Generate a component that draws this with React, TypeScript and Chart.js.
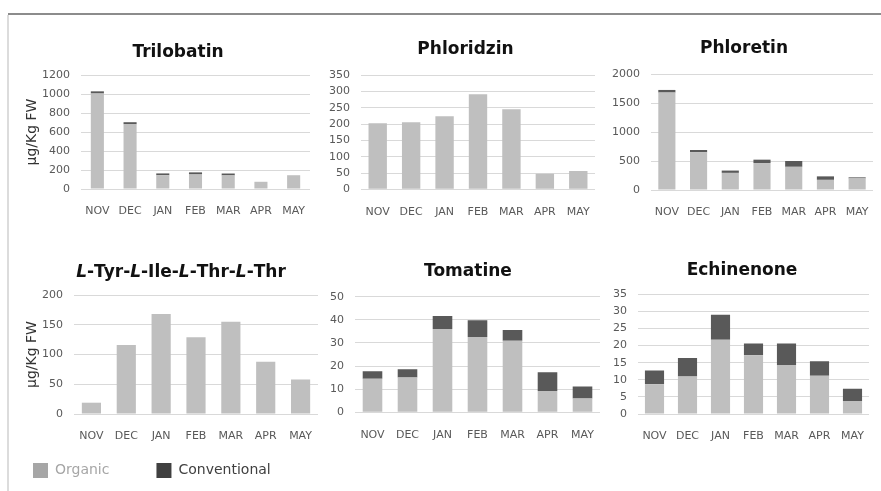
import { useEffect, useRef } from 'react';
import { Chart, registerables } from 'chart.js';

Chart.register(...registerables);

const FONT = "'DejaVu Sans', Verdana, sans-serif";
Chart.defaults.font.family = FONT;

// Sampling months (x-axis categories)
const months = ['NOV', 'DEC', 'JAN', 'FEB', 'MAR', 'APR', 'MAY'];
const seriesNames = ['Organic', 'Conventional'];

// µg/Kg FW, organic contribution and extra amount for conventional (stacked)
const trilobatinOrganic = [1005, 683, 145, 153, 143, 76, 145];
const trilobatinConventional = [23, 20, 19, 22, 20, 0, 0];
const phloridzinOrganic = [203, 206, 224, 292, 246, 48, 56];
const phloridzinConventional = [0, 0, 0, 0, 0, 0, 0];
const phloretinOrganic = [1680, 650, 295, 465, 400, 175, 200];
const phloretinConventional = [45, 40, 40, 58, 100, 60, 18];
const peptideOrganic = [19, 116, 168, 129, 155, 88, 58];
const peptideConventional = [0, 0, 0, 0, 0, 0, 0];
const tomatineOrganic = [14.5, 15, 36, 32.6, 31, 9.2, 6];
const tomatineConventional = [3.3, 3.6, 5.7, 7.2, 4.6, 8.1, 5.2];
const echinenoneOrganic = [8.7, 11, 21.7, 17.2, 14.3, 11.2, 3.8];
const echinenoneConventional = [4, 5.4, 7.3, 3.4, 6.3, 4.2, 3.6];

// y-axis ranges per panel
const yMax = [1200, 350, 2000, 200, 50, 35];
const yStep = [200, 50, 500, 50, 10, 5];

const ORGANIC_COLOR = '#bfbfbf';
const CONVENTIONAL_COLOR = '#595959';
const TICK_COLOR = '#595959';
const GRID_COLOR = '#d9d9d9';
const TITLE_COLOR = '#111111';
const Y_TITLE = 'µg/Kg FW';

type PanelSpec = {
  title: string;
  organic: number[];
  conventional: number[];
  max: number;
  step: number;
  yTitle: string | null;
  // layout of the panel on the page
  titleCX: number;
  titleCY: number;
  plotL: number;
  plotR: number;
  plotT: number;
  plotB: number;
  barPct: number;
  yTitleX: number;
};

const panels: PanelSpec[] = [
  { title: 'Trilobatin', organic: trilobatinOrganic, conventional: trilobatinConventional, max: yMax[0], step: yStep[0], yTitle: Y_TITLE,
    titleCX: 178, titleCY: 52, plotL: 81, plotR: 310, plotT: 75, plotB: 189, barPct: 0.4, yTitleX: 32 },
  { title: 'Phloridzin', organic: phloridzinOrganic, conventional: phloridzinConventional, max: yMax[1], step: yStep[1], yTitle: null,
    titleCX: 465.5, titleCY: 49, plotL: 361, plotR: 595, plotT: 75.3, plotB: 189.3, barPct: 0.55, yTitleX: 0 },
  { title: 'Phloretin', organic: phloretinOrganic, conventional: phloretinConventional, max: yMax[2], step: yStep[2], yTitle: null,
    titleCX: 744, titleCY: 48, plotL: 651, plotR: 873, plotT: 74, plotB: 190, barPct: 0.54, yTitleX: 0 },
  { title: 'L-Tyr-L-Ile-L-Thr-L-Thr', organic: peptideOrganic, conventional: peptideConventional, max: yMax[3], step: yStep[3], yTitle: Y_TITLE,
    titleCX: 181, titleCY: 272, plotL: 74, plotR: 318, plotT: 295, plotB: 414, barPct: 0.55, yTitleX: 32 },
  { title: 'Tomatine', organic: tomatineOrganic, conventional: tomatineConventional, max: yMax[4], step: yStep[4], yTitle: null,
    titleCX: 468, titleCY: 271, plotL: 355, plotR: 600, plotT: 296.7, plotB: 412.3, barPct: 0.56, yTitleX: 0 },
  { title: 'Echinenone', organic: echinenoneOrganic, conventional: echinenoneConventional, max: yMax[5], step: yStep[5], yTitle: null,
    titleCX: 742, titleCY: 270, plotL: 638, plotR: 869, plotT: 294.3, plotB: 414, barPct: 0.58, yTitleX: 0 },
];

const TITLE_SIZE = 17;
const TITLE_LINE = TITLE_SIZE * 1.2;
const X_AXIS_HEIGHT = 30;
const Y_TITLE_SIZE = 14;

// Draws the panel heading inside the reserved title block; in peptide names
// the L stereo descriptors are set in italics.
const panelTitlePlugin = {
  id: 'panelTitle',
  afterDraw(chart: any) {
    const opts = chart.options.plugins.panelTitle;
    if (!opts || !opts.text) return;
    const block = chart.titleBlock;
    if (!block) return;
    const ctx = chart.ctx as CanvasRenderingContext2D;
    const parts: { t: string; italic: boolean }[] = [];
    String(opts.text).split('-').forEach((tok: string, i: number) => {
      if (i > 0) parts.push({ t: '-', italic: false });
      parts.push({ t: tok, italic: tok === 'L' });
    });
    const fontOf = (italic: boolean) => `${italic ? 'italic ' : ''}bold ${TITLE_SIZE}px ${FONT}`;
    ctx.save();
    let total = 0;
    parts.forEach((p) => {
      ctx.font = fontOf(p.italic);
      total += ctx.measureText(p.t).width;
    });
    let x = opts.centerX - total / 2;
    const y = block.top + TITLE_LINE / 2;
    ctx.textBaseline = 'middle';
    ctx.textAlign = 'left';
    ctx.fillStyle = TITLE_COLOR;
    parts.forEach((p) => {
      ctx.font = fontOf(p.italic);
      ctx.fillText(p.t, x, y);
      x += ctx.measureText(p.t).width;
    });
    ctx.restore();
  },
};

function BarPanel({ spec }: { spec: PanelSpec }) {
  const ref = useRef<HTMLCanvasElement>(null);

  const scaleLeft = spec.yTitle ? 20 : Math.floor(spec.plotL - 45);
  const cx0 = scaleLeft - 4;
  const padLeft = scaleLeft - cx0;
  const W = Math.ceil(spec.plotR + 4 - cx0);
  const padRight = cx0 + W - spec.plotR;
  const cy0 = Math.round(spec.titleCY - TITLE_LINE / 2);
  const titlePadBottom = spec.plotT - cy0 - TITLE_LINE;
  const H = Math.ceil(spec.plotB + X_AXIS_HEIGHT - cy0);
  const padBottom = cy0 + H - X_AXIS_HEIGHT - spec.plotB;
  const yWidth = spec.plotL - scaleLeft;
  const yTitlePad = spec.yTitleX - scaleLeft - (Y_TITLE_SIZE * 1.2) / 2;

  useEffect(() => {
    if (!ref.current) return;
    const chart = new Chart(ref.current, {
      type: 'bar',
      data: {
        labels: months,
        datasets: [
          { label: seriesNames[0], data: spec.organic, backgroundColor: ORGANIC_COLOR, borderWidth: 0 },
          { label: seriesNames[1], data: spec.conventional, backgroundColor: CONVENTIONAL_COLOR, borderWidth: 0 },
        ],
      },
      options: {
        responsive: false,
        animation: false,
        events: [],
        categoryPercentage: 1,
        barPercentage: spec.barPct,
        layout: { padding: { left: padLeft, right: padRight, top: 0, bottom: padBottom } },
        plugins: {
          legend: { display: false },
          tooltip: { enabled: false },
          // reserves the heading block; the text itself is painted by panelTitle
          title: {
            display: true,
            text: spec.title,
            color: 'rgba(0,0,0,0)',
            font: { family: FONT, size: TITLE_SIZE, weight: 'bold', lineHeight: 1.2 },
            padding: { top: 0, bottom: titlePadBottom },
          },
          panelTitle: { text: spec.title, centerX: spec.titleCX - cx0 },
        } as any,
        scales: {
          x: {
            stacked: true,
            grid: { display: false },
            border: { display: false },
            ticks: { color: TICK_COLOR, font: { size: 11 }, padding: 8, maxRotation: 0, autoSkip: false },
            afterFit: (s: any) => { s.height = X_AXIS_HEIGHT; },
          },
          y: {
            stacked: true,
            min: 0,
            max: spec.max,
            border: { display: false },
            grid: { color: GRID_COLOR, drawTicks: false, lineWidth: 1 },
            ticks: {
              stepSize: spec.step,
              color: TICK_COLOR,
              font: { size: 11 },
              padding: 11,
              callback: (v: any) => String(v),
            },
            title: {
              display: !!spec.yTitle,
              text: spec.yTitle || '',
              color: '#333333',
              font: { family: FONT, size: Y_TITLE_SIZE, lineHeight: 1.2 },
              padding: { top: yTitlePad, bottom: 0 },
            },
            afterFit: (s: any) => { s.width = yWidth; },
          },
        },
      },
      plugins: [panelTitlePlugin as any],
    });
    return () => chart.destroy();
  }, []);

  return (
    <canvas
      ref={ref}
      width={W}
      height={H}
      style={{ position: 'absolute', left: cx0, top: cy0, width: W, height: H }}
    />
  );
}

const legendSwatches = ['#a6a6a6', '#404040'];
const legendTextColors = ['#a6a6a6', '#404040'];

function SeriesLegend() {
  const ref = useRef<HTMLCanvasElement>(null);
  useEffect(() => {
    if (!ref.current) return;
    const chart = new Chart(ref.current, {
      type: 'bar',
      data: {
        labels: [],
        datasets: [
          { label: seriesNames[0], data: [], backgroundColor: ORGANIC_COLOR },
          { label: seriesNames[1], data: [], backgroundColor: CONVENTIONAL_COLOR },
        ],
      },
      options: {
        responsive: false,
        animation: false,
        events: [],
        layout: { padding: 0 },
        scales: { x: { display: false }, y: { display: false } },
        plugins: {
          tooltip: { enabled: false },
          legend: {
            display: true,
            position: 'top',
            align: 'start',
            labels: {
              boxWidth: 15,
              boxHeight: 15,
              padding: 47,
              font: { family: FONT, size: 14 },
              generateLabels: (c: any) =>
                c.data.datasets.map((ds: any, i: number) => ({
                  text: ds.label,
                  fillStyle: legendSwatches[i],
                  strokeStyle: legendSwatches[i],
                  fontColor: legendTextColors[i],
                  lineWidth: 0,
                  hidden: false,
                  datasetIndex: i,
                })),
            },
          },
        },
      },
    });
    return () => chart.destroy();
  }, []);
  return (
    <canvas
      ref={ref}
      width={420}
      height={140}
      style={{ position: 'absolute', left: -14, top: 416, width: 420, height: 140 }}
    />
  );
}

export default function App() {
  return (
    <div
      style={{
        position: 'absolute',
        left: 0,
        top: 0,
        width: 881,
        height: 491,
        overflow: 'hidden',
        background: '#ffffff',
      }}
    >
      {panels.map((p, i) => (
        <BarPanel key={i} spec={p} />
      ))}
      <SeriesLegend />
      <div style={{ position: 'absolute', left: 8, top: 13, width: 873, height: 2, background: '#8c8c8c' }} />
      <div style={{ position: 'absolute', left: 7, top: 15, width: 2, height: 476, background: '#dcdcdc' }} />
    </div>
  );
}
